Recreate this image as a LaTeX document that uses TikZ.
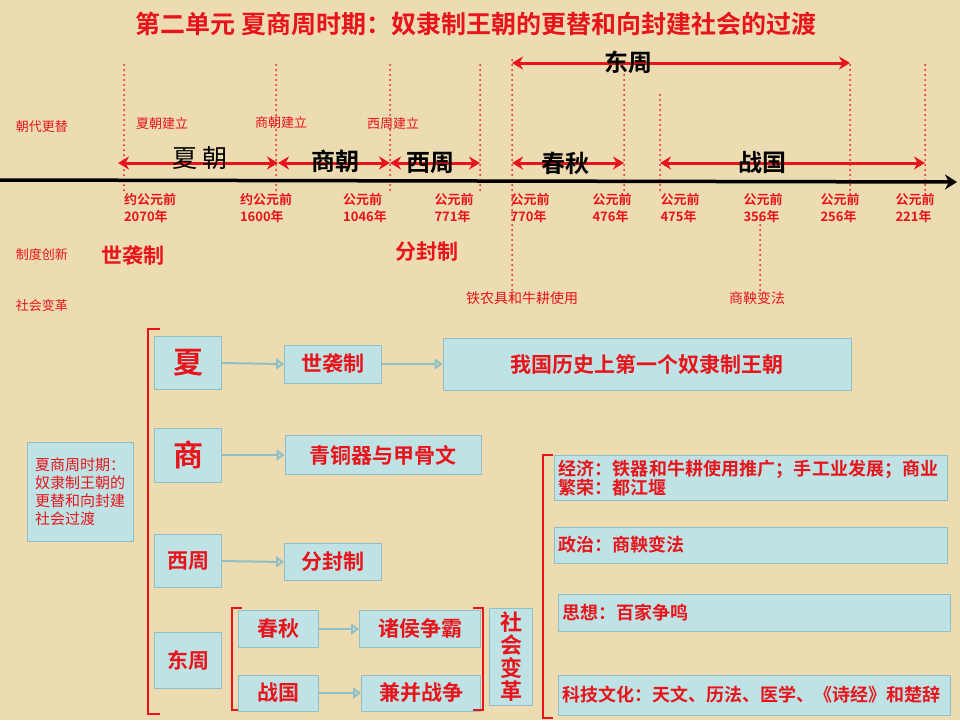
\documentclass[tikz,border=0pt]{standalone}
\usepackage{fontspec}
\setmainfont{Noto Sans CJK SC}
\newfontfamily\cjkb{Noto Sans CJK SC Bold}
\XeTeXlinebreaklocale "zh"
\XeTeXlinebreakskip=0pt plus 1pt
\usetikzlibrary{arrows.meta}
\definecolor{bg}{HTML}{EDDCB2}
\definecolor{rd}{HTML}{E8141B}
\definecolor{bx}{HTML}{BFE3E5}
\definecolor{bxd}{HTML}{8FC0C8}
\tikzset{
 dotl/.style={rd,line width=2pt,dash pattern=on 0pt off 5pt,line cap=round},
 per/.style={rd,line width=3pt,{Stealth[length=11pt,width=13pt]}-{Stealth[length=11pt,width=13pt]}},
 sm/.style={text=rd,font=\fontsize{13}{14}\selectfont},
 dt/.style={text=rd,font=\cjkb\fontsize{13}{17}\selectfont,align=left},
 big/.style={font=\cjkb\fontsize{24}{26}\selectfont},
 bxs/.style={draw=bxd,fill=bx,line width=0.8pt,text=rd,font=\cjkb\fontsize{21}{23}\selectfont},
 bxl/.style={draw=bxd,fill=bx,line width=0.8pt,text=rd,font=\cjkb\fontsize{18}{19}\selectfont,align=left},
 arr/.style={bxd,line width=2pt,-{Triangle[open,length=8pt,width=11pt]}},
 brk/.style={rd,line width=2.5pt},
}
\begin{document}
\begin{tikzpicture}[x=1pt,y=-1pt]
\fill[bg] (0,0) rectangle (960,720);
\useasboundingbox (0,0) rectangle (960,720);
\node[text=rd,font=\cjkb\fontsize{25}{27}\selectfont] (title) at (476,24) {第二单元 夏商周时期：奴隶制王朝的更替和向封建社会的过渡};
\foreach \n/\x/\a/\b in {d1/124/65/190,d2/276/65/190,d3/390/65/190,d4/480/65/190,d5/512/60/300,d6/624/75/190,d7/660/95/190,d8/850/65/190,d9/925/65/190,d10/760/215/290}{
 \coordinate (\n a) at (\x,\a); \coordinate (\n b) at (\x,\b);
 \draw[dotl] (\n a) -- (\n b);}
\coordinate (ax0) at (0,180); \coordinate (ax1) at (957,182);
\draw[line width=3.5pt,-{Stealth[length=12pt,width=15pt]}] (ax0) -- (ax1);
\coordinate (p1) at (118,163); \coordinate (p2) at (278,163); \coordinate (p3) at (390,163);
\coordinate (p4) at (480,163); \coordinate (p5) at (512,163); \coordinate (p6) at (624,163);
\coordinate (p7) at (660,163); \coordinate (p8) at (925,163);
\coordinate (e1) at (512,63); \coordinate (e2) at (850,63);
\draw[per] (p1) -- (p2); \draw[per] (p2) -- (p3); \draw[per] (p3) -- (p4);
\draw[per] (p5) -- (p6); \draw[per] (p7) -- (p8); \draw[per] (e1) -- (e2);
\node[font=\fontsize{25}{25}\selectfont] (xia) at (200,158) {夏\,朝};
\node[big] (shang) at (335,161) {商朝};
\node[big] (xz) at (430,163) {西周};
\node[big] (cq) at (565,163) {春秋};
\node[big] (zg) at (762,162) {战国};
\node[big] (dz) at (628,62) {东周};
\node[sm] (l1) at (162,124) {夏朝建立};
\node[sm] (l2) at (281,123) {商朝建立};
\node[sm] (l3) at (393,124) {西周建立};
\node[sm] (r1) at (42,127) {朝代更替};
\node[sm] (r2) at (42,255) {制度创新};
\node[sm] (r3) at (42,306) {社会变革};
\foreach \n/\x/\t in {t1/150/约公元前\\2070年,t2/266/约公元前\\1600年,t3/365/公元前\\1046年,t4/454/公元前\\771年,t5/530/公元前\\770年,t6/612/公元前\\476年,t7/680/公元前\\475年,t8/763/公元前\\356年,t9/840/公元前\\256年,t10/915/公元前\\221年}
 \node[dt] (\n) at (\x,208) {\t};
\node[text=rd,font=\cjkb\fontsize{21}{22}\selectfont] (sx) at (133,256) {世袭制};
\node[text=rd,font=\cjkb\fontsize{21}{22}\selectfont] (ff) at (427,252) {分封制};
\node[text=rd,font=\fontsize{14}{15}\selectfont] (tn) at (522,298) {铁农具和牛耕使用};
\node[text=rd,font=\fontsize{14}{15}\selectfont] (sy) at (757,298) {商鞅变法};
\draw[brk] (160,329) -- (148,329) -- (148,714) -- (160,714);
\node[draw=bxd,fill=bx,text=rd,font=\fontsize{15}{18}\selectfont,align=left,minimum width=106pt,minimum height=99pt,text width=90pt,inner sep=3pt] (main) at (80,492) {夏商周时期：奴隶制王朝的更替和向封建社会过渡};
\node[bxs,font=\cjkb\fontsize{30}{32}\selectfont,minimum width=67pt,minimum height=53pt] (bxia) at (188,363) {夏};
\node[bxs,font=\cjkb\fontsize{30}{32}\selectfont,minimum width=67pt,minimum height=54pt] (bshang) at (188,455) {商};
\node[bxs,minimum width=67pt,minimum height=53pt] (bxz) at (188,561) {西周};
\node[bxs,minimum width=67pt,minimum height=56pt] (bdz) at (188,660) {东周};
\node[bxs,minimum width=97pt,minimum height=38pt] (bsx) at (333,364) {世袭制};
\node[bxs,minimum width=408pt,minimum height=52pt] (bfirst) at (647,364) {我国历史上第一个奴隶制王朝};
\node[bxs,minimum width=196pt,minimum height=39pt] (bqt) at (383,455) {青铜器与甲骨文};
\node[bxs,minimum width=97pt,minimum height=37pt] (bff) at (333,562) {分封制};
\draw[arr] (bxia.east) -- (bsx.west);
\draw[arr] (bsx.east) -- (bfirst.west);
\draw[arr] (bshang.east) -- (bqt.west);
\draw[arr] (bxz.east) -- (bff.west);
\draw[brk] (242,608) -- (232,608) -- (232,710) -- (242,710);
\node[bxs,minimum width=80pt,minimum height=37pt] (bcq) at (278,629) {春秋};
\node[bxs,minimum width=121pt,minimum height=37pt] (bzb) at (420,629) {诸侯争霸};
\node[bxs,minimum width=80pt,minimum height=36pt] (bzg) at (278,693) {战国};
\node[bxs,minimum width=119pt,minimum height=36pt] (bjb) at (421,693) {兼并战争};
\draw[arr] (bcq.east) -- (bzb.west);
\draw[arr] (bzg.east) -- (bjb.west);
\draw[brk] (473,608) -- (483,608) -- (483,710) -- (473,710);
\node[bxs,minimum width=43pt,minimum height=97pt,align=center,font=\cjkb\fontsize{22}{23}\selectfont,inner sep=1pt] (bsh) at (511,657) {社\\会\\变\\革};
\draw[brk] (553,455) -- (543,455) -- (543,718) -- (553,718);
\node[bxl,minimum width=393pt,minimum height=45pt,text width=385pt,inner sep=3pt] (bjj) at (751,478) {经济：铁器和牛耕使用推广；手工业发展；商业繁荣：都江堰};
\node[bxl,minimum width=393pt,minimum height=36pt,text width=385pt,inner sep=3pt] (bzz) at (751,545) {政治：商鞅变法};
\node[bxl,minimum width=392pt,minimum height=37pt,text width=384pt,inner sep=3pt] (bsx2) at (754,613) {思想：百家争鸣};
\node[bxl,minimum width=392pt,minimum height=40pt,text width=384pt,inner sep=3pt] (bkj) at (754,695) {科技文化：天文、历法、医学、《诗经》和楚辞};
\end{tikzpicture}
\end{document}
